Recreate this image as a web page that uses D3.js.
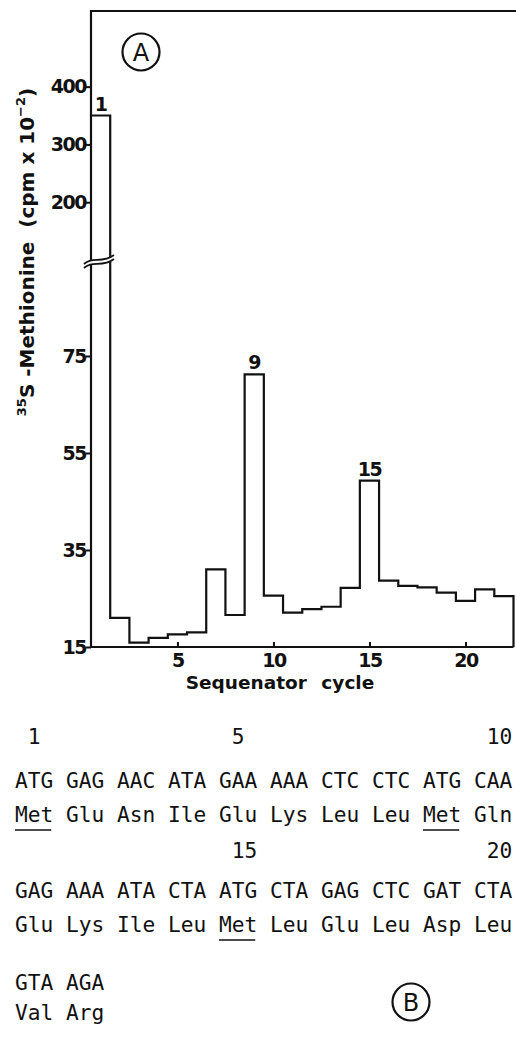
<!DOCTYPE html>
<html>
<head>
<meta charset="utf-8">
<script src="https://cdn.jsdelivr.net/npm/d3@7"></script>
<style>
  body { margin: 0; background: #fff; }
  svg { display: block; }
</style>
</head>
<body>
<div id="chart"></div>
<script>
// sequenator cycles and 35S-methionine counts (cpm x 10^-2)
var cycles = [1, 2, 3, 4, 5, 6, 7, 8, 9, 10, 11, 12, 13, 14, 15, 16, 17, 18, 19, 20, 21, 22];
var counts = [350, 21.0, 15.9, 16.9, 17.6, 18.0, 31.0, 21.6, 71.2, 25.6, 22.1,
              22.8, 23.3, 27.2, 49.3, 28.7, 27.6, 27.3, 26.2, 24.5, 26.9, 25.5];
var peaks = [1, 9, 15];
var lowTicks = [15, 35, 55, 75];
var highTicks = [200, 300, 400];
var xTicks = [5, 10, 15, 20];

// panel B sequence
var codons = [
  ["ATG", "GAG", "AAC", "ATA", "GAA", "AAA", "CTC", "CTC", "ATG", "CAA"],
  ["GAG", "AAA", "ATA", "CTA", "ATG", "CTA", "GAG", "CTC", "GAT", "CTA"],
  ["GTA", "AGA"]
];
var aminos = [
  ["Met", "Glu", "Asn", "Ile", "Glu", "Lys", "Leu", "Leu", "Met", "Gln"],
  ["Glu", "Lys", "Ile", "Leu", "Met", "Leu", "Glu", "Leu", "Asp", "Leu"],
  ["Val", "Arg"]
];
var positions = [[1, 5, 10], [15, 20], []];

var w = 516;
var h = 1060;
var svg = d3.select("#chart").append("svg")
    .attr("width", w)
    .attr("height", h);

var x = d3.scaleLinear().domain([0.5, 22.5]).range([91, 513.5]);
var yLow = d3.scaleLinear().domain([15, 95]).range([647, 259]);
var yHigh = d3.scaleLinear().domain([100, 530]).range([260, 11.5]);
function y(v) { return v >= 100 ? yHigh(v) : yLow(v); }

var labelFont = "'DejaVu Sans', sans-serif";

// step histogram
var pts = cycles.map(function(c, i) { return [x(c - 0.5), y(counts[i])]; });
pts.push([x(22.5), y(counts[counts.length - 1])]);
pts.push([x(22.5), yLow(15)]);
svg.append("path")
    .attr("d", d3.line().curve(d3.curveStepAfter)(pts))
    .attr("fill", "none")
    .attr("stroke", "#111")
    .attr("stroke-width", 2.2);

// frame: left axis, top line, bottom axis
svg.append("path")
    .attr("d", "M" + x(22.5) + "," + yLow(15) + "H" + x(0.5) + "V" + 11 + "H" + w)
    .attr("fill", "none")
    .attr("stroke", "#111")
    .attr("stroke-width", 2.2);

// axes
function styleAxis(g) {
    g.select(".domain").remove();
    g.selectAll("line").attr("stroke", "#111").attr("stroke-width", 2);
    g.selectAll("text")
        .attr("fill", "#111")
        .attr("font-family", labelFont)
        .attr("font-weight", "bold")
        .attr("font-size", "19px")
        .attr("letter-spacing", "-1.5px");
}
svg.append("g")
    .attr("transform", "translate(" + x(0.5) + ",0)")
    .call(d3.axisLeft(yLow).tickValues(lowTicks).tickSize(5).tickPadding(0))
    .call(styleAxis);
svg.append("g")
    .attr("transform", "translate(" + x(0.5) + ",0)")
    .call(d3.axisLeft(yHigh).tickValues(highTicks).tickSize(5).tickPadding(0))
    .call(styleAxis);
svg.append("g")
    .attr("transform", "translate(0," + yLow(15) + ")")
    .call(d3.axisBottom(x).tickValues(xTicks).tickSize(-5).tickPadding(7))
    .call(styleAxis);

// axis break marks
svg.append("path")
    .attr("d", "M84,268 C92,260 102,268 114,259 L114,255 C102,264 92,256 84,264 Z")
    .attr("fill", "#fff")
    .attr("stroke", "none");
[0, -4].forEach(function(o) {
    svg.append("path")
        .attr("d", "M84," + (268 + o) + " C92," + (260 + o) + " 102," + (268 + o) + " 114," + (259 + o))
        .attr("fill", "none")
        .attr("stroke", "#111")
        .attr("stroke-width", 1.8);
});

// peak labels
svg.selectAll("text.peak")
    .data(peaks)
    .enter()
    .append("text")
    .attr("class", "peak")
    .attr("x", function(d) { return x(d); })
    .attr("y", function(d) { return y(counts[d - 1]) - 5; })
    .attr("text-anchor", "middle")
    .attr("font-family", labelFont)
    .attr("font-weight", "bold")
    .attr("font-size", "19px")
    .attr("letter-spacing", "-1.5px")
    .attr("fill", "#111")
    .text(function(d) { return d; });

// axis titles
svg.append("text")
    .attr("x", 280)
    .attr("y", 689)
    .attr("text-anchor", "middle")
    .attr("font-family", labelFont)
    .attr("font-weight", "bold")
    .attr("font-size", "18.5px")
    .attr("word-spacing", "8px")
    .attr("fill", "#111")
    .text("Sequenator cycle");

var yt = svg.append("text")
    .attr("transform", "translate(34,252) rotate(-90)")
    .attr("text-anchor", "middle")
    .attr("font-family", labelFont)
    .attr("font-weight", "bold")
    .attr("font-size", "20px")
    .attr("fill", "#111");
yt.append("tspan").attr("font-size", "13px").attr("dy", -8).text("35");
yt.append("tspan").attr("dy", 8).text("S -Methionine\u00a0\u00a0(cpm x 10");
yt.append("tspan").attr("font-size", "13px").attr("dy", -9).text("\u22122");
yt.append("tspan").attr("dy", 9).text(")");

// panel letters
function panelLetter(cx, cy, t) {
    svg.append("circle")
        .attr("cx", cx).attr("cy", cy).attr("r", 18.5)
        .attr("fill", "none").attr("stroke", "#111").attr("stroke-width", 2.2);
    svg.append("text")
        .attr("x", cx).attr("y", cy + 8.5)
        .attr("text-anchor", "middle")
        .attr("font-family", labelFont)
        .attr("font-size", "24px")
        .attr("fill", "#111")
        .text(t);
}
panelLetter(141, 52, "A");

// sequence text (monospace, one codon per column)
var monoFont = "'DejaVu Sans Mono', monospace";
var charW = 12.75;
var col = d3.scaleLinear().domain([0, 1]).range([15, 15 + 4 * charW]);
var numY = [744, 858, null];
var codonY = [788, 898, 990];
var aminoY = [822, 932, 1020];

codons.forEach(function(row, r) {
    svg.selectAll("text.pos" + r)
        .data(positions[r])
        .enter()
        .append("text")
        .attr("x", function(d) { return col((d - 1) % 10) + charW; })
        .attr("y", numY[r])
        .attr("font-family", monoFont)
        .attr("font-size", "21.2px")
        .attr("fill", "#111")
        .text(function(d) { return d; });

    svg.selectAll("text.cod" + r)
        .data(row)
        .enter()
        .append("text")
        .attr("x", function(d, i) { return col(i); })
        .attr("y", codonY[r])
        .attr("font-family", monoFont)
        .attr("font-size", "21.2px")
        .attr("fill", "#111")
        .text(function(d) { return d; });

    svg.selectAll("text.aa" + r)
        .data(aminos[r])
        .enter()
        .append("text")
        .attr("x", function(d, i) { return col(i); })
        .attr("y", aminoY[r])
        .attr("font-family", monoFont)
        .attr("font-size", "21.2px")
        .attr("fill", "#111")
        .text(function(d) { return d; });

    // methionines underlined
    svg.selectAll("line.met" + r)
        .data(aminos[r].map(function(d, i) { return i; }).filter(function(i) { return aminos[r][i] === "Met"; }))
        .enter()
        .append("line")
        .attr("x1", function(i) { return col(i); })
        .attr("x2", function(i) { return col(i) + 3 * charW - 2; })
        .attr("y1", aminoY[r] + 8)
        .attr("y2", aminoY[r] + 8)
        .attr("stroke", "#111")
        .attr("stroke-width", 1.6);
});

panelLetter(411, 1002, "B");
</script>
</body>
</html>
